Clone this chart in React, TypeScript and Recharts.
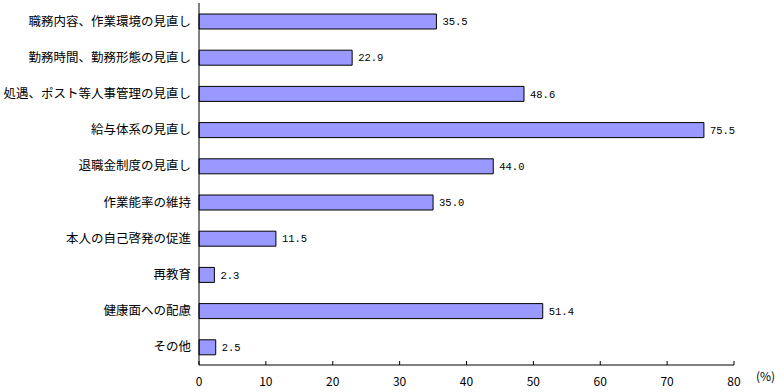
import React from "react";
import { BarChart, Bar, XAxis, YAxis, LabelList, Customized } from "recharts";

const categories = [
  "職務内容、作業環境の見直し",
  "勤務時間、勤務形態の見直し",
  "処遇、ポスト等人事管理の見直し",
  "給与体系の見直し",
  "退職金制度の見直し",
  "作業能率の維持",
  "本人の自己啓発の促進",
  "再教育",
  "健康面への配慮",
  "その他",
];
const values = [35.5, 22.9, 48.6, 75.5, 44.0, 35.0, 11.5, 2.3, 51.4, 2.5];
const xTicks = [0, 10, 20, 30, 40, 50, 60, 70, 80];

const data = categories.map((name, i) => ({ name, value: values[i] }));

const XTick = (props: any) => {
  const { x, y, payload } = props;
  return (
    <g>
      <line x1={x} y1={y} x2={x} y2={y - 4} stroke="#000" strokeWidth={1} />
      <text x={x} y={y + 21} textAnchor="middle" fontSize={12} fill="#000" fontFamily="'Noto Sans CJK JP', sans-serif">
        {payload.value}
      </text>
    </g>
  );
};

export default function App() {
  return (
    <div style={{ position: "absolute", left: 0, top: 0, background: "#fff" }}>
      <BarChart
        width={784}
        height={392}
        data={data}
        layout="vertical"
        margin={{ top: 3, right: 50, bottom: 0, left: 0 }}
      >
        <XAxis
          type="number"
          domain={[0, 80]}
          ticks={xTicks}
          tickLine={false}
          tickSize={0}
          tickMargin={0}
          axisLine={{ stroke: "#000", strokeWidth: 1 }}
          tick={<XTick />}
          height={27}
        />
        <YAxis
          type="category"
          dataKey="name"
          width={199}
          tickLine={false}
          axisLine={{ stroke: "#000", strokeWidth: 1 }}
          interval={0}
          tick={{ fill: "#000", fontSize: 12.5, fontFamily: "'Noto Sans CJK JP', sans-serif" }}
        />
        <Bar dataKey="value" fill="#9999FF" stroke="#000" strokeWidth={1} barSize={15} isAnimationActive={false}>
          <LabelList
            dataKey="value"
            position="right"
            offset={6}
            formatter={(v: any) => Number(v).toFixed(1)}
            style={{ fill: "#000", fontSize: 10.5, fontFamily: "'Liberation Mono', monospace" }}
          />
        </Bar>
        <Customized
          component={() => (
            <text x={756} y={381} fontSize={12} fill="#000" fontFamily="'Noto Sans CJK JP', sans-serif">
              (%)
            </text>
          )}
        />
      </BarChart>
    </div>
  );
}
